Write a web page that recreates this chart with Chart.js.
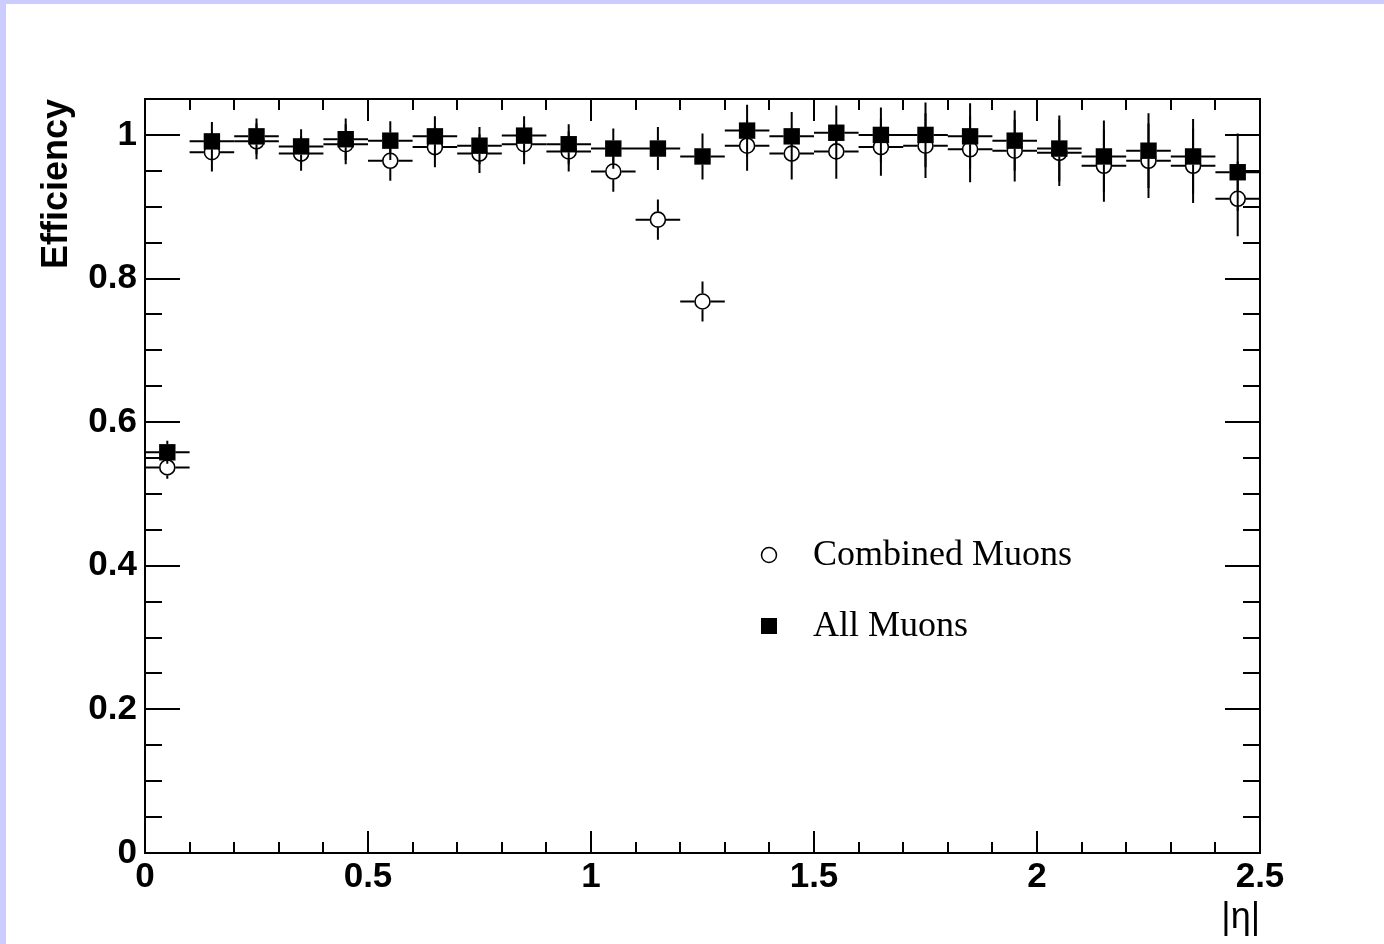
<!DOCTYPE html>
<html>
<head>
<meta charset="utf-8">
<script src="https://cdn.jsdelivr.net/npm/chart.js@4/dist/chart.umd.min.js"></script>
<style>
  html, body { margin: 0; padding: 0; background: #ccccff; overflow: hidden; }
  #pad { position: absolute; left: 6px; top: 4px; width: 1378px; height: 940px; background: #fff; }
  canvas { display: block; }
</style>
</head>
<body>
<div id="pad"><canvas id="effChart" width="1378" height="940"></canvas></div>
<script>
// |eta| bin centres (bin width 0.1)
const etaBins = [0.05, 0.15, 0.25, 0.35, 0.45, 0.55, 0.65, 0.75, 0.85, 0.95,
                 1.05, 1.15, 1.25, 1.35, 1.45, 1.55, 1.65, 1.75, 1.85, 1.95,
                 2.05, 2.15, 2.25, 2.35, 2.45];
const binHalfWidth = 0.05;

// Combined muons (open circles)
const combinedEff = [0.537, 0.976, 0.991, 0.974, 0.987, 0.964, 0.983, 0.974, 0.987, 0.977,
                     0.949, 0.882, 0.768, 0.985, 0.974, 0.977, 0.983, 0.985, 0.980, 0.978,
                     0.975, 0.957, 0.964, 0.957, 0.911];
const combinedErr = [0.016, 0.027, 0.025, 0.024, 0.028, 0.028, 0.028, 0.027, 0.028, 0.028,
                     0.028, 0.028, 0.028, 0.035, 0.036, 0.038, 0.040, 0.045, 0.046, 0.043,
                     0.046, 0.050, 0.052, 0.052, 0.052];

// All muons (filled squares)
const allEff = [0.558, 0.991, 0.998, 0.984, 0.994, 0.992, 0.998, 0.985, 0.999, 0.987,
                0.981, 0.981, 0.970, 1.006, 0.998, 1.003, 1.000, 1.000, 0.998, 0.992,
                0.981, 0.970, 0.978, 0.970, 0.948];
const allErr = [0.016, 0.027, 0.025, 0.024, 0.029, 0.027, 0.028, 0.026, 0.027, 0.028,
                0.028, 0.030, 0.032, 0.036, 0.034, 0.038, 0.038, 0.045, 0.046, 0.042,
                0.046, 0.050, 0.052, 0.052, 0.054];

const xTicks = [0, 0.5, 1, 1.5, 2, 2.5];
const xTickLabels = ['0', '0.5', '1', '1.5', '2', '2.5'];
const yTicks = [0, 0.2, 0.4, 0.6, 0.8, 1];
const yTickLabels = ['0', '0.2', '0.4', '0.6', '0.8', '1'];

const SANS = "'Liberation Sans', Arial, Helvetica, sans-serif";
const SERIF = "'Liberation Serif', 'Times New Roman', serif";

Chart.defaults.font.family = SANS;
Chart.defaults.color = '#000';

function toPoints(ys, errs) {
  return etaBins.map((x, i) => ({ x: x, y: ys[i], err: errs[i] }));
}

// error bars, drawn just before each dataset's markers
const errorBars = {
  id: 'errorBars',
  beforeDatasetDraw(chart, args) {
    const ds = chart.data.datasets[args.index];
    const xs = chart.scales.x, ys = chart.scales.y;
    const gap = ds.markerHalf;
    const ctx = chart.ctx;
    ctx.save();
    ctx.strokeStyle = '#000';
    ctx.lineWidth = 2;
    ctx.beginPath();
    ds.data.forEach(p => {
      const cx = xs.getPixelForValue(p.x);
      const cy = ys.getPixelForValue(p.y);
      const xl = xs.getPixelForValue(p.x - binHalfWidth);
      const xr = xs.getPixelForValue(p.x + binHalfWidth);
      const yt = ys.getPixelForValue(p.y + p.err);
      const yb = ys.getPixelForValue(p.y - p.err);
      ctx.moveTo(xl, cy); ctx.lineTo(cx - gap, cy);
      ctx.moveTo(cx + gap, cy); ctx.lineTo(xr, cy);
      if (cy - yt > gap) { ctx.moveTo(cx, yt); ctx.lineTo(cx, cy - gap); }
      if (yb - cy > gap) { ctx.moveTo(cx, cy + gap); ctx.lineTo(cx, yb); }
    });
    ctx.stroke();
    ctx.restore();
  }
};

// frame with inward ticks on all four sides
const frameTicks = {
  id: 'frameTicks',
  afterDatasetsDraw(chart) {
    const { ctx, chartArea: a } = chart;
    const xs = chart.scales.x, ys = chart.scales.y;
    ctx.save();
    ctx.strokeStyle = '#000';
    ctx.lineWidth = 2;
    ctx.beginPath();
    for (let k = 0; k <= 25; k++) {
      const v = k / 10;
      const px = Math.round(xs.getPixelForValue(v));
      const len = k % 5 === 0 ? 22 : 11;
      ctx.moveTo(px, a.bottom); ctx.lineTo(px, a.bottom - len);
      ctx.moveTo(px, a.top); ctx.lineTo(px, a.top + len);
    }
    for (let k = 0; k <= 21; k++) {
      const v = k / 20;
      const py = Math.round(ys.getPixelForValue(v));
      const len = k % 4 === 0 ? 35 : 17;
      ctx.moveTo(a.left, py); ctx.lineTo(a.left + len, py);
      ctx.moveTo(a.right, py); ctx.lineTo(a.right - len, py);
    }
    ctx.stroke();
    ctx.strokeRect(a.left, a.top, a.right - a.left, a.bottom - a.top);
    ctx.restore();
  }
};

// legend box inside the frame
const markerLegend = {
  id: 'markerLegend',
  afterDraw(chart) {
    const { ctx, chartArea: a } = chart;
    const mx = a.left + 624, tx = a.left + 668;
    const rows = [{ y: a.top + 456, ds: chart.data.datasets[1] },
                  { y: a.top + 527, ds: chart.data.datasets[0] }];
    ctx.save();
    ctx.font = '36px ' + SERIF;
    ctx.textBaseline = 'middle';
    ctx.textAlign = 'left';
    ctx.fillStyle = '#000';
    rows.forEach(r => {
      ctx.lineWidth = 1.5;
      ctx.strokeStyle = '#000';
      if (r.ds.pointStyle === 'circle') {
        ctx.beginPath();
        ctx.arc(mx, r.y, 7.5, 0, Math.PI * 2);
        ctx.fillStyle = '#fff';
        ctx.fill();
        ctx.stroke();
      } else {
        ctx.fillStyle = '#000';
        ctx.fillRect(mx - 8, r.y - 8, 16, 16);
      }
      ctx.fillStyle = '#000';
      ctx.fillText(r.ds.label, tx, r.y + 1);
    });
    ctx.restore();
  }
};

new Chart(document.getElementById('effChart'), {
  type: 'scatter',
  data: {
    datasets: [
      {
        label: 'All Muons',
        data: toPoints(allEff, allErr),
        pointStyle: 'rect',
        pointRadius: 11.6,
        pointBackgroundColor: '#000',
        pointBorderColor: '#000',
        pointBorderWidth: 0,
        markerHalf: 8,
        order: 1
      },
      {
        label: 'Combined Muons',
        data: toPoints(combinedEff, combinedErr),
        pointStyle: 'circle',
        pointRadius: 7.5,
        pointBackgroundColor: '#fff',
        pointBorderColor: '#000',
        pointBorderWidth: 1.6,
        markerHalf: 8,
        order: 2
      }
    ]
  },
  options: {
    responsive: false,
    animation: false,
    events: [],
    layout: { padding: { top: 95, right: 124, left: 0, bottom: 0 } },
    plugins: { legend: { display: false }, tooltip: { enabled: false } },
    scales: {
      x: {
        type: 'linear', min: 0, max: 2.5,
        grid: { display: false, drawTicks: false },
        border: { display: false },
        afterBuildTicks: s => { s.ticks = xTicks.map(v => ({ value: v })); },
        afterFit: s => { s.height = 91; },
        ticks: {
          autoSkip: false, maxRotation: 0, padding: 3,
          font: { size: 35, weight: 'bold' },
          callback: (v, i) => xTickLabels[i]
        },
        title: {
          display: true, text: '|η|', align: 'end',
          font: { size: 36, weight: 'normal' },
          padding: { top: 0, bottom: 4 }
        }
      },
      y: {
        type: 'linear', min: 0, max: 1.05,
        grid: { display: false, drawTicks: false },
        border: { display: false },
        afterBuildTicks: s => { s.ticks = yTicks.map(v => ({ value: v })); },
        afterFit: s => { s.width = 139; },
        ticks: {
          autoSkip: false, padding: 8,
          font: { size: 35, weight: 'bold' },
          callback: (v, i) => yTickLabels[i]
        },
        title: {
          display: true, text: 'Efficiency', align: 'end',
          font: { size: 36, weight: 'bold' },
          padding: { top: 29, bottom: 0 }
        }
      }
    }
  },
  plugins: [errorBars, frameTicks, markerLegend]
});
</script>
</body>
</html>
